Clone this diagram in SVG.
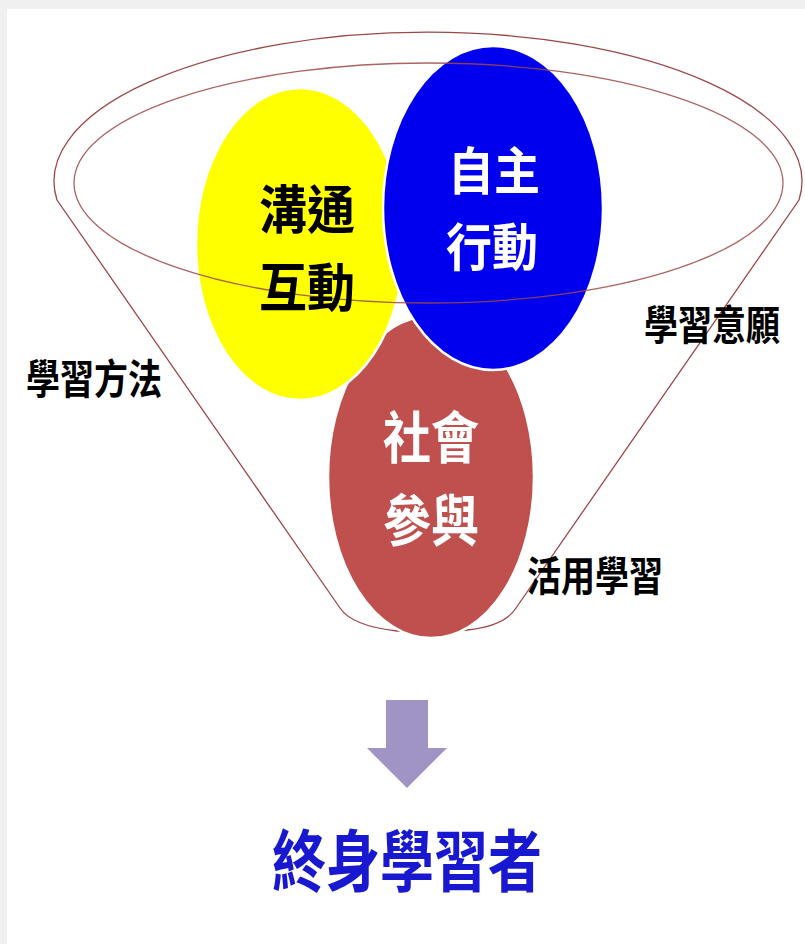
<svg xmlns="http://www.w3.org/2000/svg" width="805" height="944" viewBox="0 0 805 944">
  <style>
    .t { font-family: "Noto Sans CJK TC", "Noto Sans CJK SC", sans-serif; font-weight: 700; text-anchor: middle; }
    .big { font-size: 48px; }
    .mid { font-size: 46px; }
    .side { font-size: 34px; fill: #000; }
    .blk { fill: #000; }
    .wht { fill: #fff; }
    .rim { fill: none; stroke: #9c4848; stroke-width: 1.3; }
    .bub { stroke: #fff; stroke-width: 2.5; }
  </style>
  <rect x="0" y="0" width="805" height="944" fill="#f0f0f0"/>
  <rect x="7" y="9" width="798" height="935" fill="#fff"/>

  <g id="connectors">
    <path id="funnel" class="rim" d="M 57,200 A 374,149 0 1 1 799,200 L 516,608 Q 505,626 467,630 L 397,631 Q 352,626 340,608 Z"/>
  </g>

  <g id="node-social">
    <ellipse class="bub" cx="431" cy="477" rx="103" ry="161" fill="#c0504d"/>
    <text class="t big wht" transform="translate(431,437) scale(1,1.15)" y="18">社會</text>
    <text class="t big wht" transform="translate(431,520) scale(1,1.15)" y="18">參與</text>
  </g>

  <g id="node-communication">
    <ellipse class="bub" cx="300" cy="244" rx="104" ry="156" fill="#ffff00"/>
  </g>

  <g id="node-autonomy">
    <ellipse class="bub" cx="493" cy="208" rx="110" ry="162" fill="#0000ee"/>
  </g>

  <g id="rim-inner">
    <ellipse class="rim" cx="428.5" cy="183" rx="354.5" ry="120" stroke-opacity="0.85"/>
  </g>

  <g id="labels-inner">
    <text class="t big blk" transform="translate(307,209) scale(1,1.1)" y="18">溝通</text>
    <text class="t big blk" transform="translate(307,287) scale(1,1.1)" y="18">互動</text>
    <text class="t mid wht" transform="translate(494,171) scale(1,1.1)" y="17.5">自主</text>
    <text class="t mid wht" transform="translate(492,247) scale(1,1.1)" y="17.5">行動</text>
  </g>

  <g id="label-will">
    <text class="t side" transform="translate(712,324) scale(1,1.2)" y="13">學習意願</text>
  </g>
  <g id="label-method">
    <text class="t side" transform="translate(94,378) scale(1,1.2)" y="13">學習方法</text>
  </g>
  <g id="label-apply">
    <text class="t side" transform="translate(595,575) scale(1,1.2)" y="13">活用學習</text>
  </g>

  <g id="arrow">
    <polygon points="386,700 428,700 428,748 447,748 407,788 367,748 386,748" fill="#a094c4"/>
  </g>

  <g id="node-lifelong">
    <text class="t" style="font-size:54px" fill="#1818d0" transform="translate(407,860) scale(1,1.25)" y="20.5">終身學習者</text>
  </g>
</svg>
